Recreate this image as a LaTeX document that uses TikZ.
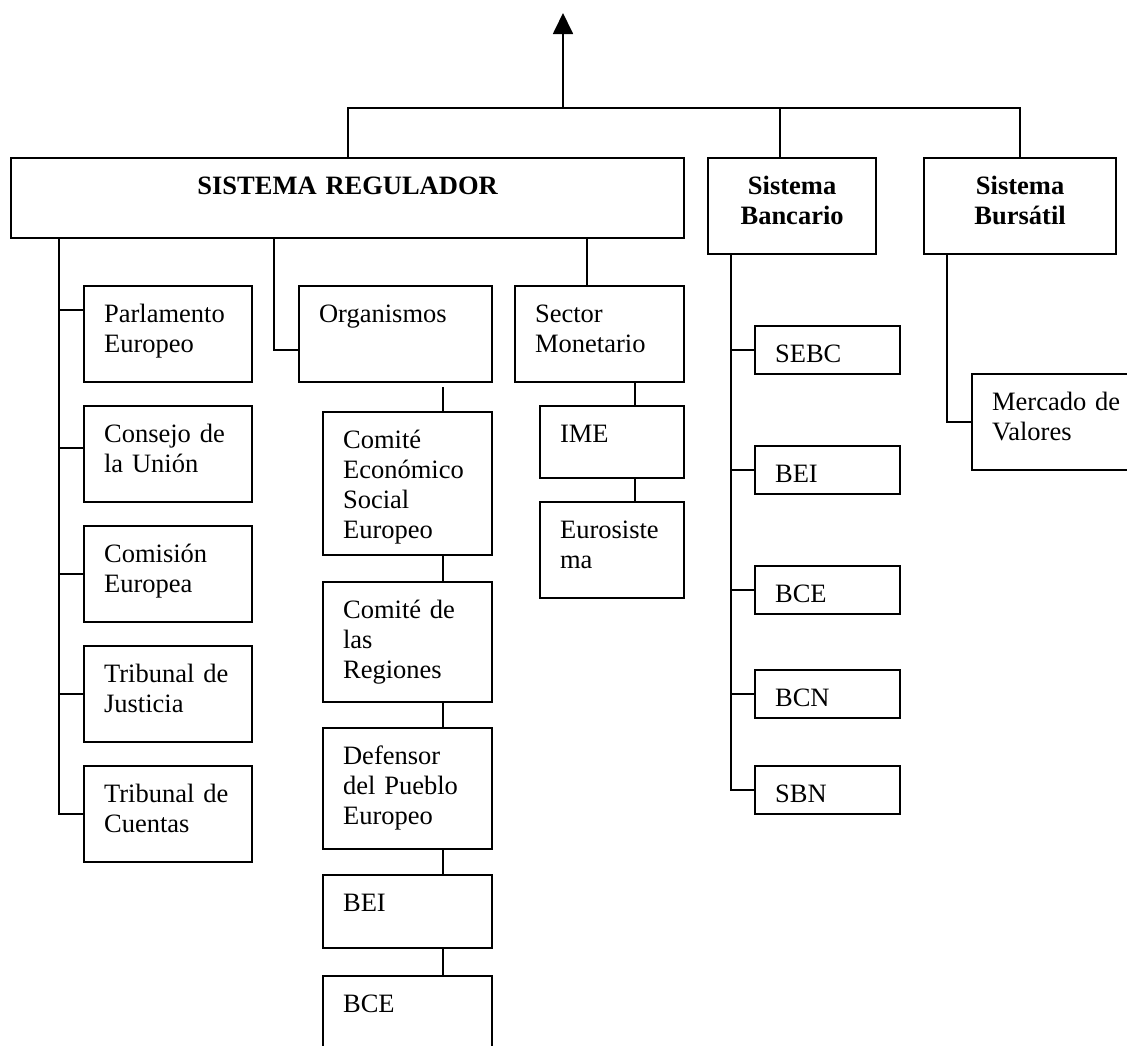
\documentclass[tikz,border=0pt]{standalone}
\usepackage{fontspec}
\setmainfont{Liberation Serif}
\usetikzlibrary{arrows.meta}

\begin{document}
\begin{tikzpicture}[x=1pt, y=-1pt,
        caja/.style={draw, line width=2.2pt, anchor=north west, inner xsep=20pt, inner ysep=0pt,
            align=left, text height=36pt, font=\fontsize{26.5}{30}\selectfont},
        titulo/.style={caja, align=center, font=\fontsize{26.5}{30}\selectfont\bfseries},
        linea/.style={line width=1.8pt},
        flecha/.style={linea, -{Triangle[length=21pt, width=20pt]}}]
        \useasboundingbox (0,0) rectangle (1127,1045);
        \clip (0,0) rectangle (1127,1045);
        \node[titulo, text width=633pt, text depth=44pt] (Regulador) at (10,157) {SISTEMA REGULADOR};
        \node[titulo, text width=128pt, text depth=60pt] (Bancario) at (707,157) {Sistema\\Bancario};
        \node[titulo, text width=152pt, text depth=60pt] (Bursatil) at (923,157) {Sistema\\Bursátil};
        \node[caja, text width=128pt, text depth=60pt] (Parlamento) at (83,285) {Parlamento\\Europeo};
        \node[caja, text width=128pt, text depth=60pt] (Consejo) at (83,405) {Consejo de\\la Unión};
        \node[caja, text width=128pt, text depth=60pt] (Comision) at (83,525) {Comisión\\Europea};
        \node[caja, text width=128pt, text depth=60pt] (Justicia) at (83,645) {Tribunal de\\Justicia};
        \node[caja, text width=128pt, text depth=60pt] (Cuentas) at (83,765) {Tribunal de\\Cuentas};
        \node[caja, text width=153pt, text depth=60pt] (Organismos) at (298,285) {Organismos};
        \node[caja, text width=129pt, text depth=107pt] (Comite Economico) at (322,411) {Comité\\Económico\\Social\\Europeo};
        \node[caja, text width=129pt, text depth=84pt] (Comite Regiones) at (322,581) {Comité de\\las\\Regiones};
        \node[caja, text width=129pt, text depth=85pt] (Defensor) at (322,727) {Defensor\\del Pueblo\\Europeo};
        \node[caja, text width=129pt, text depth=37pt] (Org BEI) at (322,874) {BEI};
        \node[caja, text width=129pt, text depth=89pt] (Org BCE) at (322,975) {BCE};
        \node[caja, text width=129pt, text depth=60pt] (Sector) at (514,285) {Sector\\Monetario};
        \node[caja, text width=104pt, text depth=36pt] (IME) at (539,405) {IME};
        \node[caja, text width=104pt, text depth=60pt] (Eurosistema) at (539,501) {Eurosiste\\ma};
        \node[caja, text width=105pt, text depth=12pt] (SEBC) at (754,325) {SEBC};
        \node[caja, text width=105pt, text depth=12pt] (Ban BEI) at (754,445) {BEI};
        \node[caja, text width=105pt, text depth=12pt] (Ban BCE) at (754,565) {BCE};
        \node[caja, text width=105pt, text depth=12pt] (BCN) at (754,669) {BCN};
        \node[caja, text width=105pt, text depth=12pt] (SBN) at (754,765) {SBN};
        \node[caja, text width=150pt, text depth=60pt] (Mercado) at (971,373) {Mercado de\\Valores};
        \coordinate (Barra) at (563,108);
        \coordinate (Cima) at (563,13);
        \coordinate (Tronco Regulador) at ([xshift=49pt]Regulador.south west);
        \coordinate (Tronco Bancario) at ([xshift=24pt]Bancario.south west);
        \draw[linea] (Regulador.north) |- (Bursatil.north |- Barra) -- (Bursatil.north);
        \draw[linea] ([xshift=-12pt]Bancario.north) -- ([xshift=-12pt, yshift=49pt]Bancario.north);
        \draw[flecha] (Barra) -- (Cima);
        \draw[linea] (Tronco Regulador) |- ([yshift=24pt]Parlamento.west);
        \draw[linea] (Tronco Regulador) |- ([yshift=6pt]Consejo.west);
        \foreach \hijo in {Comision, Justicia, Cuentas}
            \draw[linea] (Tronco Regulador) |- (\hijo.west);
        \draw[linea] ([xshift=264pt]Regulador.south west) |- ([yshift=-16pt]Organismos.west);
        \draw[linea] ([xshift=577pt]Regulador.south west) -- ([xshift=73pt]Sector.north west);
        \draw[linea] ([xshift=121pt]Sector.south west) -- ([xshift=96pt]IME.north west);
        \draw[linea] ([xshift=96pt]IME.south west) -- ([xshift=96pt]Eurosistema.north west);
        \draw[linea, shorten <=4pt] ([xshift=145pt]Organismos.south west) -- ([xshift=121pt]Comite Economico.north west);
        \foreach \a/\b in {Comite Economico/Comite Regiones, Comite Regiones/Defensor, Defensor/Org BEI, Org BEI/Org BCE}
            \draw[linea] ([xshift=121pt]\a.south west) -- ([xshift=121pt]\b.north west);
        \foreach \hijo in {SEBC, Ban BEI, Ban BCE, BCN, SBN}
            \draw[linea] (Tronco Bancario) |- (\hijo.west);
        \draw[linea] ([xshift=24pt]Bursatil.south west) |- (Mercado.west);
\end{tikzpicture}
\end{document}
